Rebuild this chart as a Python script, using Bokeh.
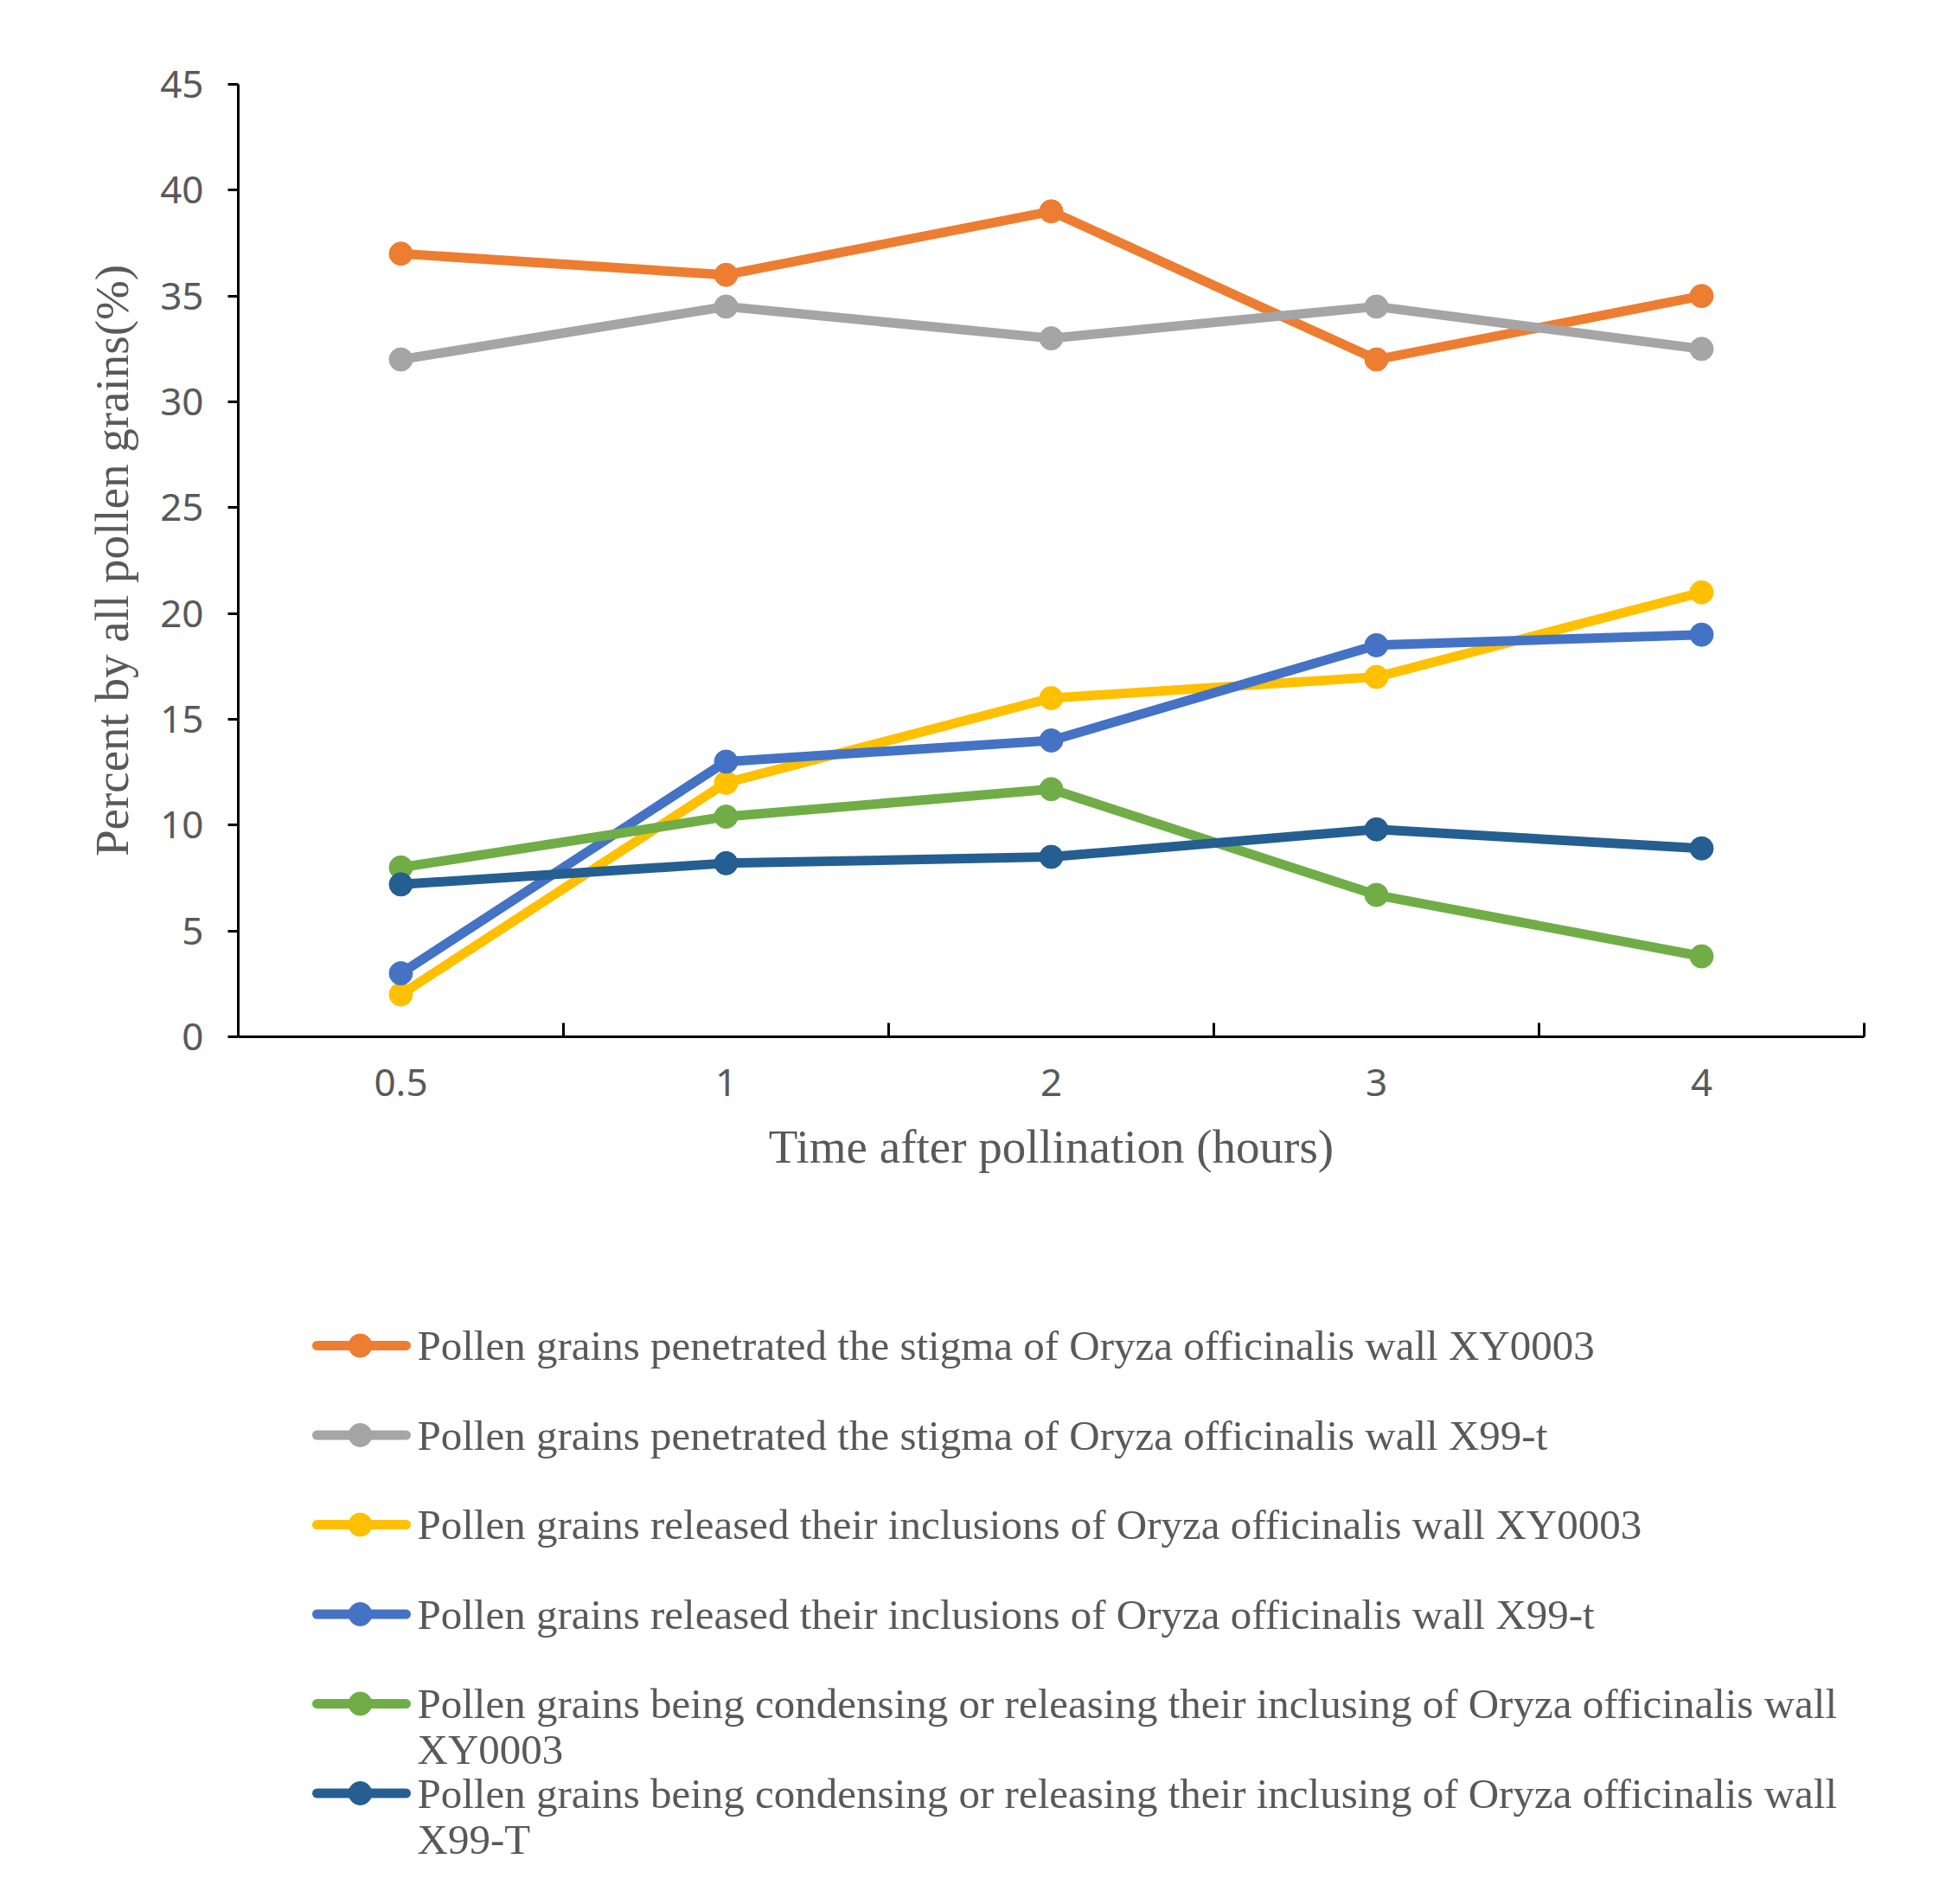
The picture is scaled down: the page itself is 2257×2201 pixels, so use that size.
import textwrap
from bokeh.plotting import figure
from bokeh.layouts import column
from bokeh.models import Range1d, FixedTicker
from bokeh.core.properties import value
from bokeh.embed import file_html
from bokeh.resources import INLINE

# ---------------- data ----------------
x_labels = ["0.5", "1", "2", "3", "4"]
y_ticks = [0, 5, 10, 15, 20, 25, 30, 35, 40, 45]

series_names = [
    "Pollen grains penetrated the stigma of Oryza officinalis wall XY0003",
    "Pollen grains penetrated the stigma of Oryza officinalis wall X99-t",
    "Pollen grains released their inclusions of Oryza officinalis wall XY0003",
    "Pollen grains released their inclusions of Oryza officinalis wall X99-t",
    "Pollen grains being condensing or releasing their inclusing of Oryza officinalis wall XY0003",
    "Pollen grains being condensing or releasing their inclusing of Oryza officinalis wall X99-T",
]
penetrated_xy0003 = [37, 36, 39, 32, 35]
penetrated_x99t = [32, 34.5, 33, 34.5, 32.5]
released_xy0003 = [2, 12, 16, 17, 21]
released_x99t = [3, 13, 14, 18.5, 19]
condensing_xy0003 = [8, 10.4, 11.7, 6.7, 3.8]
condensing_x99t = [7.2, 8.2, 8.5, 9.8, 8.9]
series_values = [penetrated_xy0003, penetrated_x99t, released_xy0003,
                 released_x99t, condensing_xy0003, condensing_x99t]
colors = ["#ED7D31", "#A5A5A5", "#FFC000", "#4472C4", "#70AD47", "#255E91"]

x_title = "Time after pollination (hours)"
y_title = "Percent by all pollen grains(%)"

# ---------------- layout / style ----------------
W, H = 2257, 2201
MAIN_H = 1440
LEG_H = H - MAIN_H
BORDER_L, BORDER_R = 275, 102
TEXT_GRAY = "#595959"
SANS = "Noto Sans"
SERIF = "Liberation Serif"

p = figure(width=W, height=MAIN_H,
           x_range=Range1d(0, len(x_labels)), y_range=Range1d(y_ticks[0], y_ticks[-1]),
           output_backend="svg", toolbar_location=None,
           min_border_left=BORDER_L, min_border_right=BORDER_R,
           min_border_top=97, min_border_bottom=MAIN_H - 1198)
p.outline_line_color = None
p.grid.visible = False
p.background_fill_color = "white"
p.border_fill_color = "white"

xs = [i + 0.5 for i in range(len(x_labels))]

# x axis: labels at category centres, ticks at category boundaries
xax = p.xaxis[0]
xax.ticker = FixedTicker(ticks=xs, minor_ticks=list(range(1, len(x_labels) + 1)))
xax.major_label_overrides = {x: lab for x, lab in zip(xs, x_labels)}
xax.major_tick_in = 0
xax.major_tick_out = 0
xax.minor_tick_in = 16
xax.minor_tick_out = 0
xax.minor_tick_line_width = 3
xax.minor_tick_line_color = "black"
xax.axis_line_width = 3
xax.axis_line_color = "black"
xax.major_label_text_font = SANS
xax.major_label_text_font_size = "44px"
xax.major_label_text_color = TEXT_GRAY
xax.major_label_standoff = 37
xax.axis_label = x_title
xax.axis_label_text_font = SERIF
xax.axis_label_text_font_style = "normal"
xax.axis_label_text_font_size = "55px"
xax.axis_label_text_color = TEXT_GRAY
xax.axis_label_standoff = 25

yax = p.yaxis[0]
yax.ticker = FixedTicker(ticks=y_ticks)
yax.minor_tick_in = 0
yax.minor_tick_out = 0
yax.major_tick_in = 0
yax.major_tick_out = 12
yax.major_tick_line_width = 3
yax.major_tick_line_color = "black"
yax.axis_line_width = 3
yax.axis_line_color = "black"
yax.major_label_text_font = SANS
yax.major_label_text_font_size = "44px"
yax.major_label_text_color = TEXT_GRAY
yax.major_label_standoff = 28
yax.axis_label = y_title
yax.axis_label_text_font = SERIF
yax.axis_label_text_font_style = "normal"
yax.axis_label_text_font_size = "55px"
yax.axis_label_text_color = TEXT_GRAY
yax.axis_label_standoff = 22

for vals, col in zip(series_values, colors):
    p.line(xs, vals, line_color=col, line_width=11, line_join="round", line_cap="round")
    p.scatter(xs, vals, marker="circle", size=27, fill_color=col, line_color=col)

# ---------------- legend (drawn in its own panel, page-pixel coordinates) ----------------
leg = figure(width=W, height=LEG_H,
             x_range=Range1d(BORDER_L, W - BORDER_R), y_range=Range1d(LEG_H, 0),
             output_backend="svg", toolbar_location=None,
             min_border_left=BORDER_L, min_border_right=BORDER_R,
             min_border_top=0, min_border_bottom=0,
             x_axis_type=None, y_axis_type=None)
leg.outline_line_color = None
leg.grid.visible = False

ROW0 = 1555 - MAIN_H
PITCH = 103.5
LINE_GAP = 53
for i, (name, col) in enumerate(zip(series_names, colors)):
    yc = ROW0 + i * PITCH
    leg.line([366, 469], [yc, yc], line_color=col, line_width=11, line_cap="round")
    leg.scatter([416], [yc], marker="circle", size=27, fill_color=col, line_color=col)
    lines = textwrap.wrap(name, width=86)
    for j, ln in enumerate(lines):
        leg.text([482], [yc + j * LINE_GAP], text=[ln], text_baseline="middle",
                 text_align="left", text_font=value(SERIF), text_font_size="49px",
                 text_color=TEXT_GRAY)

layout = column(p, leg, spacing=0)
open("out.html", "w").write(file_html(layout, INLINE))
